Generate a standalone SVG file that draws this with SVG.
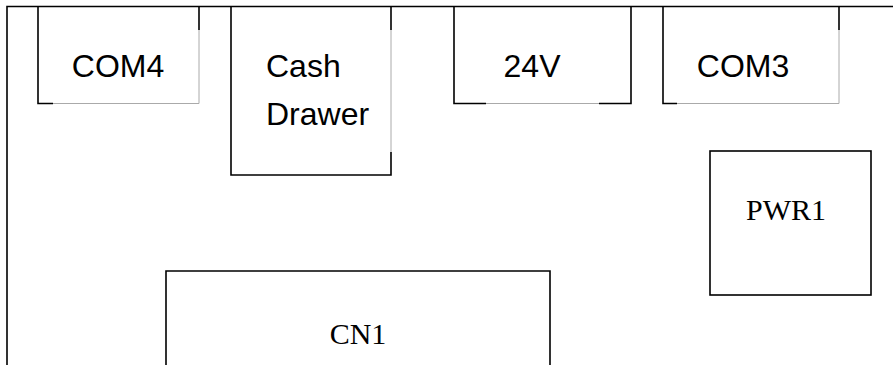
<svg xmlns="http://www.w3.org/2000/svg" width="893" height="365" viewBox="0 0 893 365">
<style>
.dk{stroke:#000;stroke-width:1.6;fill:none}
.lt{stroke:#aaa;stroke-width:1;fill:none}
.sans{font-family:"Liberation Sans",Arial,sans-serif;font-size:32px;fill:#000}
.serif{font-family:"Liberation Serif","Times New Roman",serif;font-size:30px;fill:#000}
</style>
<rect width="893" height="365" fill="#fff"/>
<g id="frame">
<path class="dk" d="M7,365 V6.5 H893"/>
</g>
<g id="com4">
<path class="lt" d="M53,103.5 H199 V30"/>
<path class="dk" d="M38,6.5 V103.5 H53 M199,6.5 V30"/>
<text class="sans" x="118" y="77" text-anchor="middle">COM4</text>
</g>
<g id="cash-drawer">
<path class="lt" d="M391,30 V152"/>
<path class="dk" d="M231,6.5 V175 H391 V152 M391,6.5 V30"/>
<text class="sans" x="266" y="77">Cash</text>
<text class="sans" x="266" y="125">Drawer</text>
</g>
<g id="v24">
<path class="lt" d="M486,103.5 H599"/>
<path class="dk" d="M454,6.5 V103.5 H486 M599,103.5 H631 V6.5"/>
<text class="sans" x="532" y="77" text-anchor="middle">24V</text>
</g>
<g id="com3">
<path class="lt" d="M677,103.5 H839 V30"/>
<path class="dk" d="M663,6.5 V103.5 H677 M839,6.5 V30"/>
<text class="sans" x="743" y="77" text-anchor="middle">COM3</text>
</g>
<g id="pwr1">
<rect class="dk" x="710" y="151" width="161" height="144"/>
<text class="serif" x="786" y="220" text-anchor="middle">PWR1</text>
</g>
<g id="cn1">
<path class="dk" d="M166,365 V271 H550 V365"/>
<text class="serif" x="358" y="344" text-anchor="middle">CN1</text>
</g>
<g id="connectors"></g>
</svg>
